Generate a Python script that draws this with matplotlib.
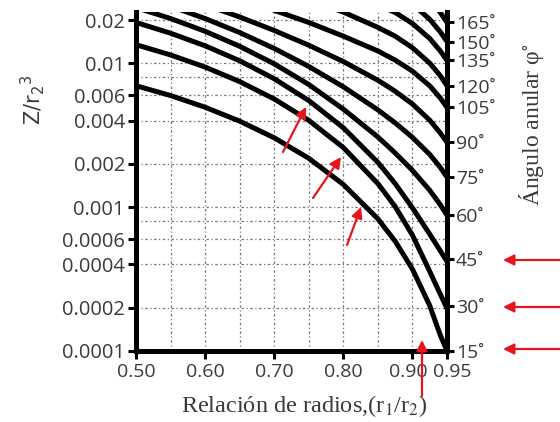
import numpy as np
import matplotlib
matplotlib.use('Agg')
import matplotlib.pyplot as plt
import matplotlib.transforms as mtransforms
from matplotlib.ticker import NullLocator

plt.rcParams['font.family'] = ['Open Sans', 'DejaVu Sans']

# radius ratio r1/r2 where the curves were read
r_ratio = [0.50, 0.55, 0.60, 0.65, 0.70, 0.75, 0.80, 0.85, 0.875, 0.90, 0.925, 0.94, 0.95]
nan = np.nan

# Z/r2^3 for each annular angle (values above the top are clipped by the axes)
z_15 = [0.00700, 0.00598, 0.00496, 0.00397, 0.00304, 0.00219, 0.00144, 0.00083, 0.00058, 0.000371, 0.000207, 0.000130, 0.000100]
z_30 = [0.01351, 0.01146, 0.00944, 0.00748, 0.00566, 0.00402, 0.00260, 0.00146, 0.00101, 0.000639, 0.000358, 0.000250, 0.000198]
z_45 = [0.01928, 0.01624, 0.01327, 0.01044, 0.00783, 0.00552, 0.00357, 0.00205, 0.00146, 0.00099, 0.00065, 0.00050, 0.00042]
z_60 = [0.02447, 0.02054, 0.01674, 0.01317, 0.00994, 0.00714, 0.00481, 0.00308, 0.002385, 0.001804, 0.001311, 0.001046, 0.00088]
z_75 = [0.02967, 0.02499, 0.02053, 0.01641, 0.01272, 0.00953, 0.00688, 0.004755, 0.00386, 0.00306, 0.00233, 0.00190, 0.00162]
z_90 = [nan, 0.0310, 0.02561, 0.02105, 0.01696, 0.01339, 0.01031, 0.00764, 0.00641, 0.00522, 0.00403, 0.00330, 0.00283]
z_105 = [nan, nan, nan, 0.0285, 0.02342, 0.01928, 0.01549, 0.01221, 0.01055, 0.00884, 0.00699, 0.00577, 0.00495]
z_120 = [nan, nan, nan, nan, nan, 0.0277, 0.02278, 0.01781, 0.01548, 0.01286, 0.01005, 0.00825, 0.00700]
z_135 = [nan, nan, nan, nan, nan, nan, 0.0310, 0.02551, 0.02263, 0.01896, 0.01491, 0.01227, 0.01050]
z_150 = [nan, nan, nan, nan, nan, nan, nan, nan, 0.03007, 0.02591, 0.02029, 0.01665, 0.01420]
z_165 = [nan, nan, nan, nan, nan, nan, nan, nan, nan, 0.0352, 0.0277, 0.02276, 0.01930]
curves = [z_15, z_30, z_45, z_60, z_75, z_90, z_105, z_120, z_135, z_150, z_165]

y_ticks = [0.0001, 0.0002, 0.0004, 0.0006, 0.001, 0.002, 0.004, 0.006, 0.01, 0.02]
y_labels = ['0.0001', '0.0002', '0.0004', '0.0006', '0.001', '0.002', '0.004', '0.006', '0.01', '0.02']
x_ticks = [0.50, 0.60, 0.70, 0.80, 0.90, 0.95]
x_labels = ['0.50', '0.60', '0.70', '0.80', '0.90', '0.95']
grid_x = [0.55, 0.60, 0.65, 0.70, 0.75, 0.80, 0.85, 0.90]
grid_y = [0.0002, 0.0004, 0.0006, 0.0008, 0.001, 0.002, 0.004, 0.006, 0.008, 0.01, 0.02]

# right axis: angle labels at the end of each curve
angle_z = [0.0001, 0.000205, 0.000435, 0.00088, 0.00162, 0.00283, 0.00495, 0.0070, 0.0105, 0.0142, 0.0193]
angle_labels = ['15˚', '30˚', '45˚', '60˚', '75˚', '90˚', '105˚', '120˚', '135˚', '150˚', '165˚']

W, H = 560, 422
fig = plt.figure(figsize=(W / 100, H / 100), dpi=100)
ax = fig.add_axes([136 / W, (H - 351) / H, (447 - 136) / W, (351 - 12) / H])

ax.set_yscale('log')
ax.set_xlim(0.50, 0.95)
ax.set_ylim(0.0001, 0.0228)

for gx in grid_x:
    ax.axvline(gx, color='#777777', lw=0.9, ls=(0, (2, 2, 1, 2)), zorder=1)
for gy in grid_y:
    ax.axhline(gy, color='#777777', lw=0.9, ls=(0, (2, 2, 1, 2)), zorder=1)

for z in curves:
    ax.plot(r_ratio, z, color='black', lw=3.6, solid_capstyle='butt', zorder=3)

ax.set_xticks(x_ticks)
ax.set_xticklabels(x_labels)
ax.set_yticks(y_ticks)
ax.set_yticklabels(y_labels)
ax.yaxis.set_minor_locator(NullLocator())

for s in ['left', 'bottom', 'right']:
    ax.spines[s].set_linewidth(3.6)
    ax.spines[s].set_zorder(5)
ax.spines['top'].set_visible(False)

ax.tick_params(axis='both', direction='out', length=6, width=2.2, labelsize=14.5,
               labelcolor='#3a3a3a', pad=2)
ax.tick_params(axis='x', pad=2.5, labelsize=14)

# the last two x labels sit very close; nudge them apart a little
xl = ax.get_xticklabels()
xl[4].set_transform(xl[4].get_transform() + mtransforms.ScaledTranslation(-4 / 100, 0, fig.dpi_scale_trans))
xl[5].set_transform(xl[5].get_transform() + mtransforms.ScaledTranslation(5 / 100, 0, fig.dpi_scale_trans))

ax2 = ax.twinx()
ax2.set_yscale('log')
ax2.set_ylim(ax.get_ylim())
ax2.set_yticks(angle_z)
ax2.set_yticklabels(angle_labels)
ax2.yaxis.set_minor_locator(NullLocator())
ax2.spines['top'].set_visible(False)
for s in ['left', 'bottom', 'right']:
    ax2.spines[s].set_visible(False)
ax2.tick_params(axis='y', direction='out', length=5, width=2.2, labelsize=14,
                labelcolor='#3a3a3a', pad=1.5)

fig.text(33 / W, 1 - 100 / H, 'Z/r$_2$$^3$', rotation=90, ha='center', va='center',
         fontsize=15, color='#3a3a3a', family=['DejaVu Sans'], math_fontfamily='dejavusans')
fig.text(304 / W, 1 - 406 / H, 'Relación de radios,(r$_1$/r$_2$)', ha='center', va='center',
         fontsize=17.5, color='#3a3a3a', family=['Liberation Serif'], math_fontfamily='stix')
fig.text(531 / W, 1 - 125 / H, 'Ángulo anular φ$^{\\circ}$', rotation=90, ha='center', va='center',
         fontsize=17, color='#3a3a3a', family=['Liberation Serif'], math_fontfamily='stix')

# red annotation arrows (figure pixel coordinates)
red = '#e8141b'
arrows = [((283, 152), (306, 107)), ((313, 198), (341, 157)), ((347, 245), (361, 207)),
          ((422, 396), (422, 340)),
          ((560, 260), (503, 260)), ((560, 307), (503, 307)), ((560, 349), (503, 349))]
for (x0, y0), (x1, y1) in arrows:
    ax.annotate('', xy=(x1, H - y1), xytext=(x0, H - y0), xycoords='figure pixels',
                textcoords='figure pixels', annotation_clip=False,
                arrowprops=dict(arrowstyle='-|>', color=red, lw=1.6, mutation_scale=16,
                                shrinkA=0, shrinkB=0), zorder=10)

fig.savefig('out.png', dpi=100)
